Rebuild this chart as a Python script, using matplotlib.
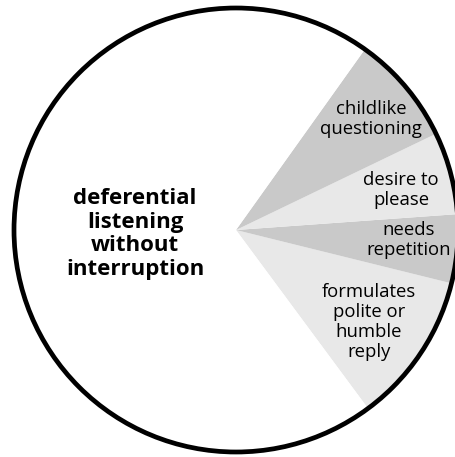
import matplotlib.pyplot as plt
from matplotlib.patches import Circle

# slice shares, counterclockwise from the lower right
labels = ['formulates\npolite or\nhumble\nreply', 'needs\nrepetition', 'desire to\nplease',
          'childlike\nquestioning', 'deferential\nlistening\nwithout\ninterruption']
values = [11, 5, 6, 8, 70]
colors = ['#e8e8e8', '#c9c9c9', '#e8e8e8', '#c9c9c9', 'white']

# label positions in pixels (x, y from top)
label_pos = [(369, 322), (409, 240), (401, 190), (371, 119), (135, 234)]

W, H = 455, 457
fig = plt.figure(figsize=(W / 100, H / 100), dpi=100)
ax = fig.add_axes([0, 0, 1, 1])

cx, cy, r = 236, H - 230, 222
ax.pie(values, colors=colors, startangle=-53.5, counterclock=True,
       center=(cx, cy), radius=r, wedgeprops=dict(linewidth=0), frame=True)
ax.set_xlim(0, W)
ax.set_ylim(0, H)
ax.set_aspect('equal')
ax.axis('off')
ax.add_patch(Circle((cx, cy), r, fill=False, edgecolor='black', linewidth=3.4, zorder=5))

for i, (lab, (x, y)) in enumerate(zip(labels, label_pos)):
    bold = i == len(labels) - 1
    ax.text(x, H - y, lab, ha='center', va='center', multialignment='center',
            family='Open Sans', fontsize=16 if bold else 13.3,
            fontweight='bold' if bold else 'normal', linespacing=1.18 if bold else 1.14,
            color='black')

fig.savefig('out.png', dpi=100)
